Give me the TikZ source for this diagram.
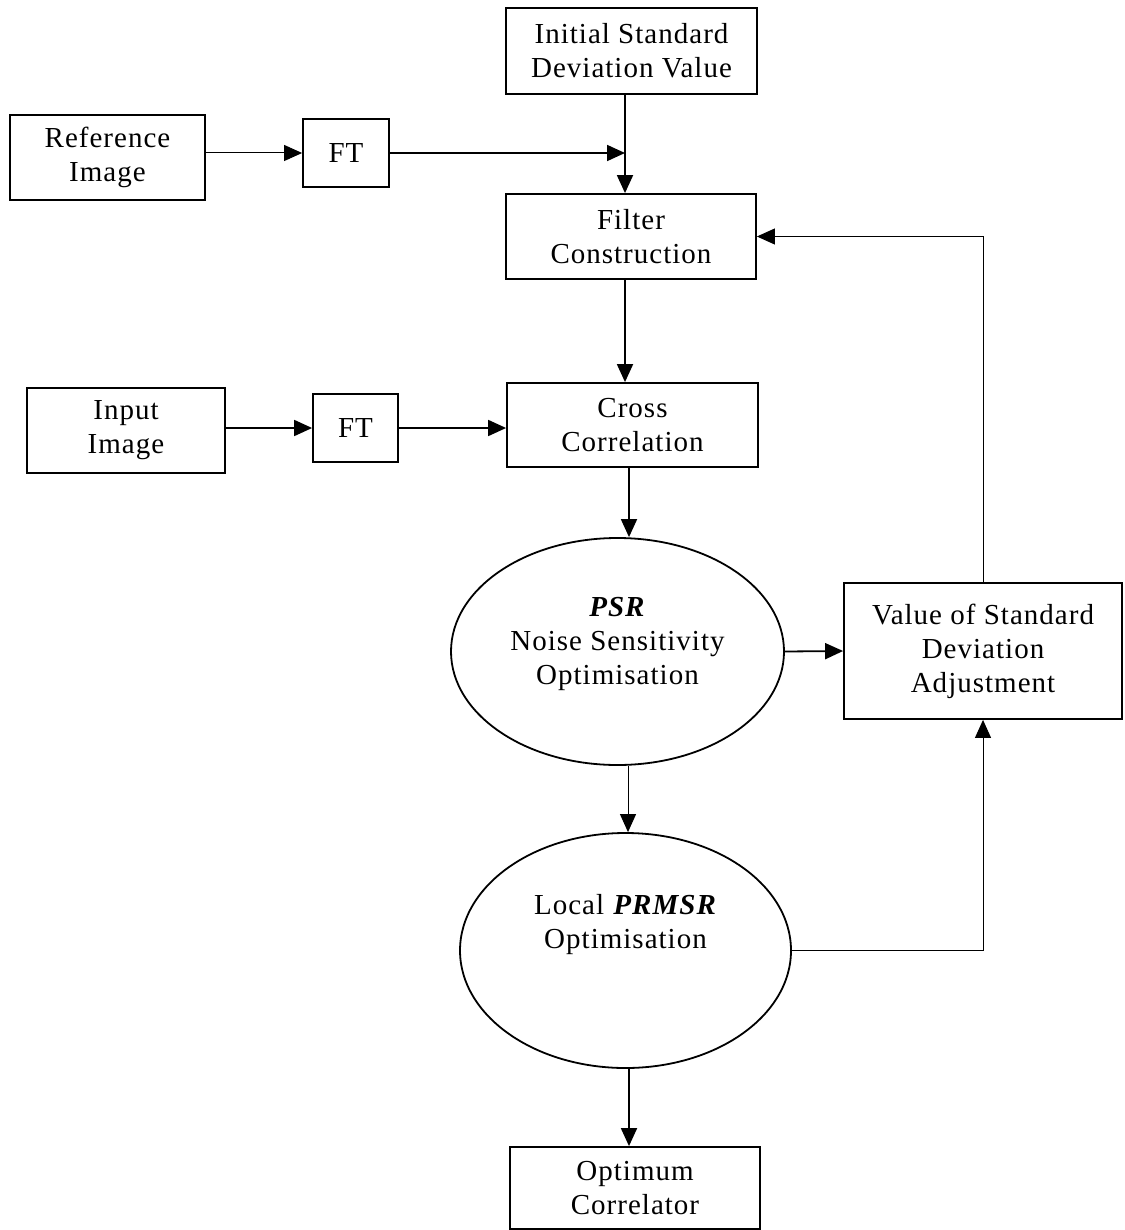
\documentclass[tikz,border=0pt]{standalone}
\usepackage{fontspec}
\setmainfont{Liberation Serif}[LetterSpace=3.5]
\usepackage{tikz}
\usetikzlibrary{shapes.geometric, arrows.meta}

\begin{document}
\begin{tikzpicture}[
    x=0.5pt, y=-0.5pt,
    every node/.style={font=\fontsize{14.5}{17}\selectfont},
    block/.style={rectangle, draw, line width=0.9pt, text centered, align=center, inner sep=0pt},
    oval/.style={ellipse, draw, line width=0.9pt, inner sep=0pt},
    arrow/.style={-{Triangle[length=9pt, width=8pt]}, line width=0.9pt},
    thinarrow/.style={arrow, line width=0.5pt},
    thinline/.style={line width=0.5pt}
]
\useasboundingbox (0,0) rectangle (1124,1230);

% Top: initial value and filter
\node[block, minimum width=125.5pt, minimum height=43pt] (init) at (631.5,51) {Initial Standard\\Deviation Value};
\node[block, minimum width=125pt, minimum height=42.5pt] (filter) at (631,236.5) {Filter\\Construction};

% Reference branch
\node[block, minimum width=97.5pt, minimum height=42.5pt] (ref) at (107.5,157.5) {Reference\\Image};
\node[block, minimum width=43pt, minimum height=34pt] (ft1) at (346,153) {FT};

% Input branch
\node[block, minimum width=99pt, minimum height=42.5pt] (input) at (126,430.5) {Input\\Image};
\node[block, minimum width=42.5pt, minimum height=34pt] (ft2) at (355.5,428) {FT};
\node[block, minimum width=125.5pt, minimum height=42pt] (cross) at (632.5,425) {Cross\\Correlation};

% Optimisation stages
\node[oval, minimum width=166.5pt, minimum height=113.5pt] (psr) at (617.5,651.5) {};
\node[align=center] (psrtext) at ([yshift=3.75pt]psr.center) {\textbf{\textit{PSR}}\\Noise Sensitivity\\Optimisation};
\node[block, minimum width=139pt, minimum height=68pt] (value) at (983,651) {Value of Standard\\Deviation\\Adjustment};
\node[oval, minimum width=165.5pt, minimum height=117.5pt] (prmsr) at (625.5,950.5) {};
\node[align=center] (prmsrtext) at ([yshift=12.75pt]prmsr.center) {Local \textbf{\textit{PRMSR}}\\Optimisation};

% Output
\node[block, minimum width=125pt, minimum height=41pt] (opt) at (635,1188) {Optimum\\Correlator};

% Arrows - main column
\draw[arrow] (init.south -| 625,0) -- (filter.north -| 625,0);
\draw[arrow] (filter.south -| 625,0) -- (cross.north -| 625,0);
\draw[arrow] (cross.south -| 629,0) -- (psr.north -| 629,0);
\draw[thinarrow] (psr.south -| 628,0) -- (prmsr.north -| 628,0);
\draw[arrow] (prmsr.south -| 629,0) -- (opt.north -| 629,0);

% Arrows - image branches
\draw[thinarrow] (ref.east |- ft1) -- (ft1.west);
\draw[arrow] (ft1.east) -- (ft1 -| 625,0);
\draw[arrow] (input.east |- ft2) -- (ft2.west);
\draw[arrow] (ft2.east) -- (ft2 -| cross.west);

% Feedback loop
\draw[arrow] (psr.east) -- (value.west);
\draw[thinline, -{Triangle[length=9pt, width=8pt]}] (value.north) |- (filter.east);
\draw[thinline, -{Triangle[length=9pt, width=8pt]}] (prmsr.east) -| (value.south);

\end{tikzpicture}
\end{document}
